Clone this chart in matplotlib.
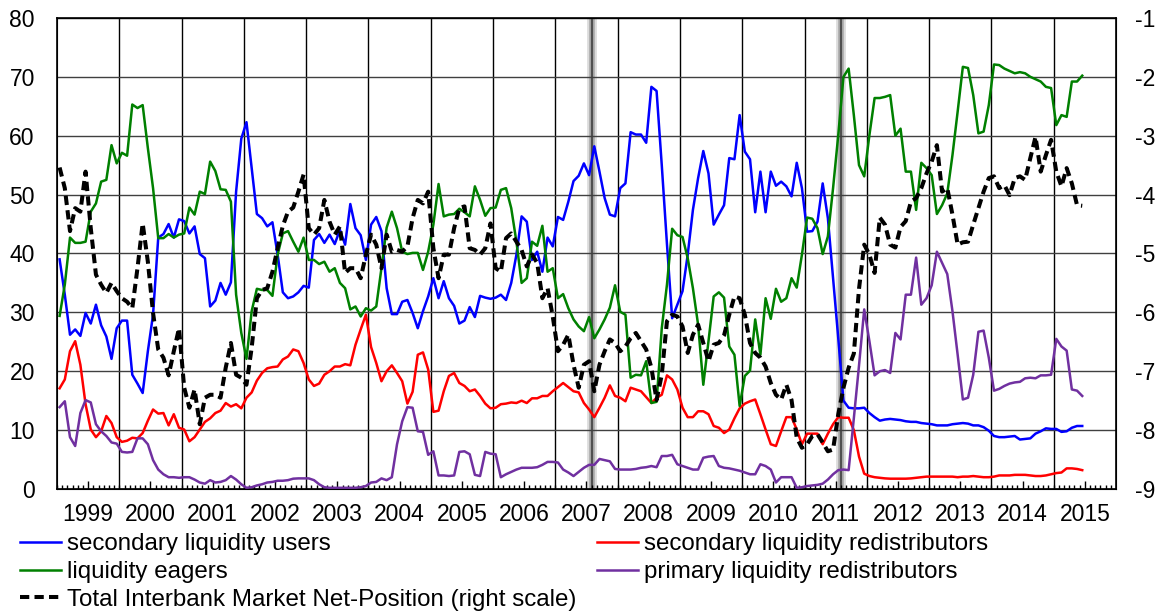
import numpy as np
import matplotlib.pyplot as plt
from matplotlib.lines import Line2D

plt.rcParams['font.family'] = ['Liberation Sans', 'DejaVu Sans']
plt.rcParams['axes.unicode_minus'] = False

# monthly data, Jan 1999 - Jun 2015
start_year = 1999

users = [39.0, 33.0, 26.2, 27.1, 26.0, 29.9, 28.1, 31.3, 27.8, 25.9, 22.1, 27.3,
         28.6, 28.6, 19.4, 17.9, 16.3, 23.4, 29.6, 42.7, 43.3, 45.0, 42.7, 45.8,
         45.5, 43.4, 44.6, 39.9, 39.2, 31.0, 32.0, 35.0, 33.0, 35.1, 50.5, 59.5,
         62.3, 54.5, 46.7, 46.0, 44.6, 45.3, 39.8, 33.4, 32.4, 32.7, 33.4, 34.5,
         34.2, 42.3, 43.3, 41.8, 43.2, 41.6, 44.0, 41.5, 48.4, 44.3, 43.1, 38.9,
         44.9, 46.2, 43.8, 34.1, 29.7, 29.7, 31.8, 32.1, 29.9, 27.3, 30.2, 32.7,
         35.8, 32.4, 35.3, 32.4, 31.1, 28.1, 28.6, 30.9, 29.2, 32.8, 32.5, 32.3,
         32.5, 33.0, 32.1, 35.0, 39.8, 46.3, 45.4, 38.9, 40.3, 36.9, 42.7, 41.2,
         46.2, 45.7, 48.8, 52.3, 53.2, 55.3, 53.3, 58.2, 53.9, 49.4, 46.6, 46.3,
         51.1, 51.9, 60.6, 60.2, 60.2, 58.8, 68.3, 67.6, 55.0, 41.6, 29.0, 31.3,
         33.6, 39.8, 47.4, 52.8, 57.4, 53.6, 44.9, 46.6, 48.2, 56.2, 56.0, 63.5,
         57.3, 56.0, 47.0, 53.9, 47.0, 53.9, 51.5, 52.2, 51.4, 49.7, 55.4, 51.1,
         43.7, 43.8, 45.4, 51.9, 46.0, 35.8, 25.6, 15.0, 13.8, 13.7, 13.7, 13.8,
         12.9, 12.2, 11.6, 11.8, 11.9, 11.8, 11.7, 11.5, 11.4, 11.4, 11.2, 11.1,
         11.0, 10.8, 10.8, 10.8, 11.0, 11.1, 11.2, 11.1, 10.8, 10.8, 10.5, 9.9,
         9.0, 8.8, 8.8, 8.9, 9.0, 8.4, 8.5, 8.6, 9.4, 9.8, 10.3, 10.2,
         10.2, 9.7, 9.8, 10.4, 10.7, 10.7]

eagers = [29.4, 34.7, 42.7, 41.8, 41.8, 42.0, 47.1, 48.5, 52.2, 52.5, 58.4, 55.3,
          57.1, 56.6, 65.3, 64.7, 65.2, 57.9, 51.1, 42.6, 42.6, 43.3, 42.7, 43.2,
          43.4, 47.8, 46.6, 50.5, 50.1, 55.6, 54.0, 50.9, 50.8, 48.8, 33.0, 26.5,
          22.1, 30.2, 34.0, 33.8, 33.8, 32.8, 39.8, 43.4, 43.8, 42.0, 40.3, 42.7,
          38.9, 38.9, 38.2, 38.6, 36.9, 37.5, 35.0, 34.1, 30.5, 31.0, 29.3, 30.7,
          30.3, 31.0, 37.5, 44.4, 47.1, 44.3, 40.3, 39.9, 40.1, 40.1, 37.2, 40.3,
          44.9, 51.8, 46.3, 46.6, 46.7, 47.6, 47.0, 46.3, 51.4, 49.1, 46.4, 47.7,
          47.8, 50.8, 51.1, 47.7, 42.0, 35.0, 35.8, 42.0, 41.3, 44.7, 36.9, 37.5,
          32.4, 33.1, 30.7, 28.8, 27.6, 26.8, 29.2, 25.6, 27.1, 28.8, 30.8, 34.6,
          30.1, 29.6, 18.9, 19.4, 19.3, 21.7, 14.6, 14.8, 27.3, 34.7, 44.2, 43.1,
          42.8, 39.2, 34.1, 27.9, 17.7, 25.1, 32.7, 33.4, 32.5, 24.2, 22.8, 14.1,
          19.2, 20.1, 28.8, 22.8, 32.4, 28.9, 34.0, 31.8, 32.4, 35.8, 34.2, 39.8,
          46.1, 45.9, 44.3, 39.9, 42.9, 51.1, 60.1, 70.0, 71.4, 63.5, 55.0, 53.1,
          60.1, 66.4, 66.4, 66.6, 66.9, 60.0, 61.2, 53.9, 53.9, 47.4, 55.4, 54.5,
          53.3, 46.7, 48.2, 50.2, 56.7, 64.1, 71.7, 71.5, 66.9, 60.4, 60.7, 65.2,
          72.1, 72.0, 71.4, 71.0, 70.6, 70.8, 70.6, 70.0, 69.6, 69.2, 68.3, 68.1,
          61.8, 63.5, 63.2, 69.2, 69.2, 70.2]

sec_redist = [17.1, 18.6, 23.4, 25.1, 21.1, 14.4, 10.1, 8.8, 9.8, 12.4, 11.2, 8.8,
              8.0, 8.2, 8.7, 8.6, 9.5, 11.6, 13.5, 12.8, 12.9, 10.8, 12.7, 10.4,
              10.1, 8.1, 8.8, 10.1, 11.4, 12.0, 12.9, 13.3, 14.6, 14.0, 14.4, 13.7,
              15.5, 16.4, 18.4, 19.7, 20.5, 20.7, 20.8, 22.0, 22.5, 23.7, 23.4, 21.4,
              18.6, 17.5, 17.9, 19.4, 20.0, 20.8, 20.8, 21.2, 21.0, 24.5, 27.1, 29.6,
              24.1, 21.4, 18.3, 20.0, 21.0, 19.7, 18.3, 14.5, 16.5, 22.8, 23.2, 20.3,
              13.1, 13.3, 16.6, 19.2, 19.7, 18.0, 17.5, 16.6, 16.9, 15.8, 14.5, 13.7,
              13.8, 14.4, 14.5, 14.7, 14.6, 15.0, 14.6, 15.4, 15.4, 15.8, 15.8, 16.6,
              17.3, 18.0, 17.3, 16.6, 16.4, 14.6, 13.5, 12.2, 13.8, 15.5, 17.6, 15.8,
              15.5, 14.9, 17.2, 16.9, 16.6, 15.6, 14.6, 15.5, 16.0, 19.3, 18.6, 16.9,
              13.8, 12.2, 12.2, 13.2, 13.2, 12.7, 10.7, 10.4, 9.5, 10.1, 12.0, 13.7,
              14.5, 14.9, 15.2, 12.7, 10.1, 7.6, 7.3, 9.8, 12.2, 12.2, 10.1, 7.6,
              9.4, 9.4, 9.4, 7.6, 9.4, 11.0, 12.2, 12.1, 12.1, 10.0, 5.5, 2.6,
              2.2, 2.0, 1.9, 1.8, 1.75, 1.75, 1.75, 1.75, 1.8, 1.9, 2.0, 2.1,
              2.1, 2.1, 2.1, 2.1, 2.1, 2.0, 2.1, 2.1, 2.2, 2.1, 2.0, 2.0,
              2.1, 2.3, 2.3, 2.3, 2.4, 2.4, 2.4, 2.3, 2.2, 2.2, 2.3, 2.5,
              2.7, 2.8, 3.5, 3.5, 3.4, 3.2]

prim_redist = [13.9, 14.9, 8.8, 7.3, 12.9, 15.1, 14.7, 11.0, 9.8, 9.0, 7.9, 7.7,
               6.3, 6.2, 6.3, 8.6, 8.6, 7.6, 4.9, 3.3, 2.5, 2.0, 2.0, 1.9,
               2.0, 2.0, 1.6, 1.1, 0.9, 1.5, 1.1, 1.2, 1.5, 2.2, 1.6, 0.8,
               0.2, 0.3, 0.6, 0.8, 1.1, 1.2, 1.4, 1.4, 1.5, 1.75, 1.8, 1.8,
               1.8, 1.5, 0.8, 0.3, 0.2, 0.2, 0.2, 0.2, 0.2, 0.2, 0.3, 0.5,
               1.1, 1.2, 1.8, 1.5, 2.0, 7.6, 11.5, 13.9, 13.8, 9.8, 9.7, 5.8,
               6.4, 2.3, 2.3, 2.2, 2.3, 6.3, 6.4, 5.9, 2.4, 2.2, 6.3, 6.0,
               5.9, 2.0, 2.5, 2.9, 3.3, 3.6, 3.6, 3.6, 3.7, 4.1, 4.6, 4.6,
               4.5, 3.3, 2.8, 2.2, 2.9, 3.6, 4.1, 4.1, 5.1, 4.9, 4.7, 3.4,
               3.3, 3.3, 3.3, 3.4, 3.6, 3.7, 3.9, 3.7, 5.6, 5.6, 5.8, 4.2,
               3.9, 3.6, 3.3, 3.3, 5.3, 5.5, 5.6, 3.9, 3.6, 3.5, 3.3, 3.1,
               2.8, 2.5, 2.5, 4.2, 3.9, 3.3, 1.1, 2.0, 2.0, 2.0, 0.2, 0.3,
               0.5, 0.6, 0.7, 0.9, 1.6, 2.5, 3.2, 3.3, 3.2, 12.0, 21.0, 30.5,
               25.1, 19.3, 20.0, 20.2, 19.7, 26.5, 25.4, 33.0, 33.0, 39.3, 31.3, 32.4,
               34.6, 40.3, 38.4, 36.5, 30.2, 22.8, 15.2, 15.5, 19.4, 26.7, 26.9, 22.3,
               16.7, 17.0, 17.5, 17.9, 18.1, 18.2, 18.8, 18.9, 18.8, 19.3, 19.3, 19.4,
               25.5, 24.2, 23.5, 16.9, 16.7, 15.8]

# right scale
net_position = [-3.54, -3.89, -4.62, -4.23, -4.29, -3.61, -4.57, -5.36, -5.53, -5.67, -5.50, -5.64,
                -5.76, -5.82, -5.93, -5.25, -4.49, -5.14, -6.01, -6.63, -6.77, -7.07, -6.66, -6.27,
                -7.28, -7.62, -7.31, -7.90, -7.45, -7.40, -7.40, -7.45, -6.94, -6.52, -7.06, -7.11,
                -7.23, -6.60, -5.76, -5.62, -5.59, -5.31, -4.91, -4.53, -4.29, -4.22, -3.95, -3.66,
                -4.57, -4.68, -4.57, -4.09, -4.46, -4.68, -4.54, -5.33, -5.25, -5.25, -5.42, -5.02,
                -4.68, -4.85, -5.25, -4.68, -4.97, -4.94, -4.97, -4.88, -4.40, -4.09, -4.15, -3.95,
                -4.91, -5.42, -5.02, -5.02, -4.57, -4.23, -4.20, -4.91, -4.94, -5.02, -4.91, -4.49,
                -5.25, -5.31, -4.74, -4.66, -4.80, -4.94, -5.22, -5.02, -5.16, -5.76, -5.59, -6.07,
                -6.66, -6.55, -6.38, -6.89, -7.28, -6.89, -6.83, -7.34, -6.89, -6.66, -6.46, -6.52,
                -6.66, -6.58, -6.44, -6.35, -6.49, -6.63, -6.94, -7.49, -7.06, -6.15, -6.04, -6.07,
                -6.24, -6.69, -6.38, -6.21, -6.52, -6.83, -6.55, -6.52, -6.39, -6.04, -5.73, -5.76,
                -6.04, -6.52, -6.69, -6.77, -6.92, -7.20, -7.40, -7.48, -7.23, -7.49, -8.13, -8.30,
                -8.24, -8.10, -8.07, -8.21, -8.36, -8.33, -7.73, -7.28, -6.94, -6.70, -5.60, -4.85,
                -5.02, -5.33, -4.39, -4.51, -4.85, -4.90, -4.55, -4.45, -4.12, -4.06, -3.89, -3.64,
                -3.44, -3.16, -3.95, -3.89, -4.34, -4.85, -4.81, -4.80, -4.51, -4.23, -3.95, -3.72,
                -3.69, -3.89, -3.84, -4.01, -3.72, -3.69, -3.75, -3.38, -3.02, -3.61, -3.33, -3.07,
                -3.61, -3.86, -3.55, -3.81, -4.18, -4.19]

years = list(range(1999, 2016))
crisis_marks = [2007 + 7 / 12, 2011 + 7 / 12]

labels = ['secondary liquidity users', 'secondary liquidity redistributors',
          'liquidity eagers', 'primary liquidity redistributors',
          'Total Interbank Market Net-Position (right scale)']

n = len(users)
x = start_year + (np.arange(n) + 0.5) / 12

fig = plt.figure(figsize=(11.66, 6.15), dpi=100)
ax = fig.add_axes([0.0489, 0.2049, 0.9082, 0.7659])

# grid
ax.set_yticks(range(0, 81, 10))
ax.grid(axis='y', color='#404040', lw=1, zorder=1)
for yr in range(2000, 2016):
    ax.axvline(yr, color='black', lw=1, zorder=1)
for c in crisis_marks:
    ax.axvline(c, color='#dcdcdc', lw=7, zorder=1.2)
    ax.axvline(c, color='#a8a8a8', lw=4, zorder=1.3)
    ax.axvline(c, color='#505050', lw=1.5, zorder=1.4)

l1, = ax.plot(x, users, color='#0000ff', lw=1.8, zorder=3)
l2, = ax.plot(x, sec_redist, color='#ff0000', lw=1.8, zorder=3)
l3, = ax.plot(x, eagers, color='#008000', lw=1.8, zorder=3)
l4, = ax.plot(x, prim_redist, color='#7030a0', lw=1.8, zorder=3)

ax.set_xlim(1999, 2016)
ax.set_ylim(0, 80)
ax.set_xticks([y + 0.5 for y in years])
ax.set_xticklabels([str(y) for y in years])
ax.set_xticks(np.arange(1999, 2016, 1 / 12), minor=True)
ax.tick_params(axis='x', which='major', direction='in', length=6, width=1, pad=10, labelsize=16.5)
ax.tick_params(axis='x', which='minor', direction='in', length=3, width=1)
ax.tick_params(axis='y', length=0, pad=16, labelsize=16.5)
for s in ax.spines.values():
    s.set_linewidth(1.2)

ax2 = ax.twinx()
l5, = ax2.plot(x, net_position, color='black', lw=2.9, dashes=(2.3, 1.3), zorder=4)
ax2.set_ylim(-9, -1)
ax2.set_yticks(range(-9, 0))
ax2.tick_params(axis='y', length=0, pad=14, labelsize=16.5)

fig.legend([l1, l3, l5, l2, l4],
           [labels[0], labels[2], labels[4], labels[1], labels[3]],
           ncol=2, loc='upper left', bbox_to_anchor=(0.017, 0.133),
           frameon=False, fontsize=17.4, handlelength=1.7, handletextpad=0.25,
           columnspacing=0.85, labelspacing=0.24, borderpad=0, borderaxespad=0)

fig.savefig('out.png', dpi=100)
